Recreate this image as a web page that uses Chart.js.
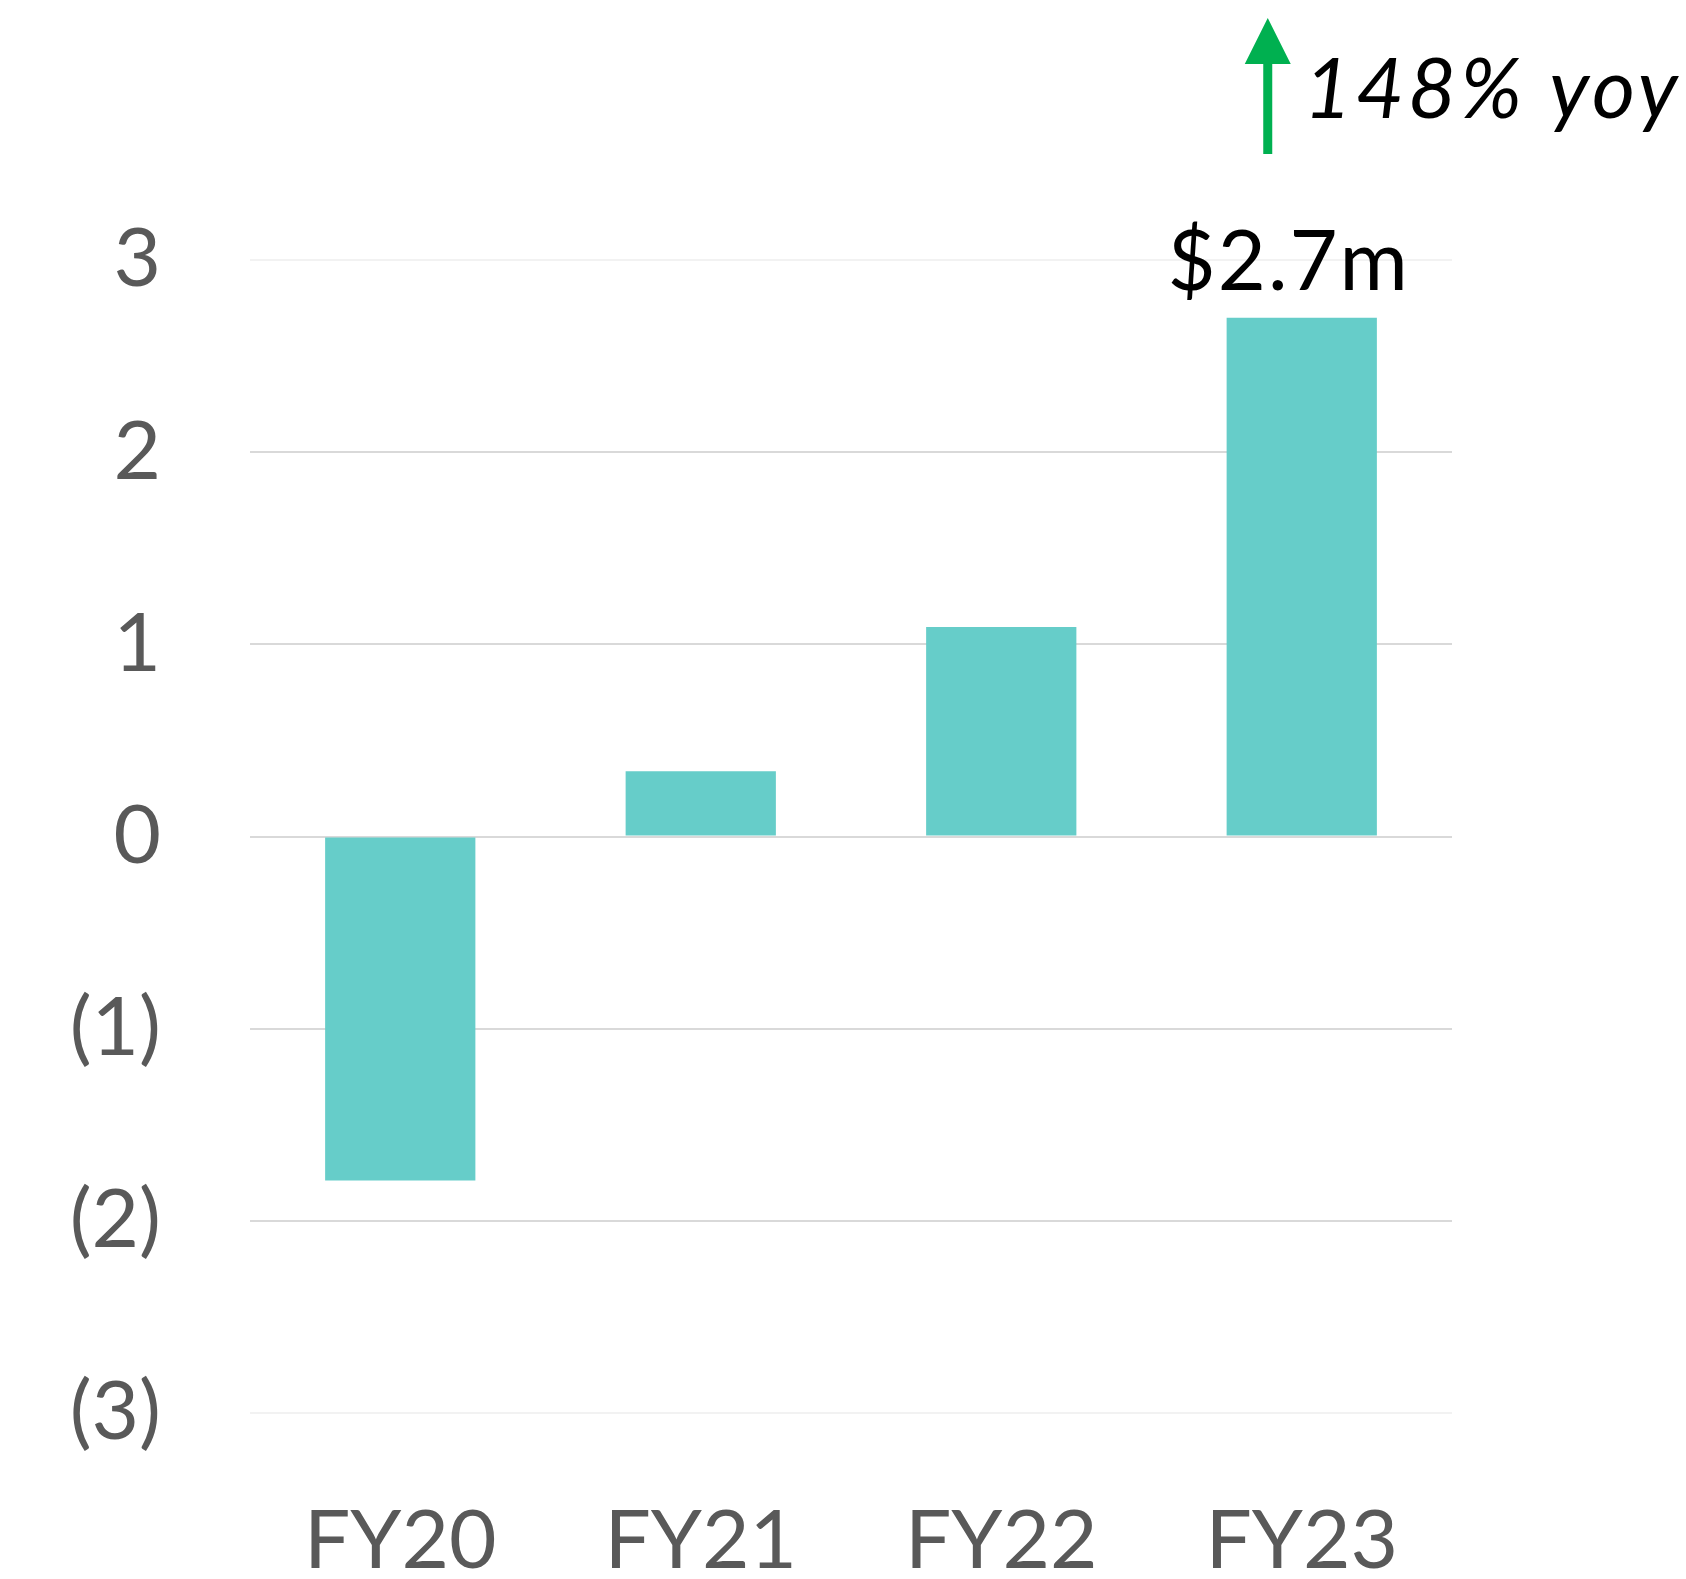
<!DOCTYPE html>
<html>
<head>
<meta charset="utf-8">
<script src="https://cdn.jsdelivr.net/npm/chart.js@4"></script>
<style>
  html, body { margin: 0; padding: 0; background: #fff; }
  canvas { display: block; }
</style>
</head>
<body>
<canvas id="profit-chart" width="1686" height="1579"></canvas>
<script>
const years = ["FY20", "FY21", "FY22", "FY23"];
const profit = [-1.79, 0.34, 1.09, 2.7];
const yTicks = [-3, -2, -1, 0, 1, 2, 3];
const lastLabel = "$2.7m";
const growthLabel = "148% yoy";

const barColor = "#66cdc9";
const textGrey = "#595959";
const fontName = "Lato, 'Open Sans', sans-serif";

// value label above FY23 plus the green growth arrow
const annotate = {
  id: "annotate",
  afterDatasetsDraw(chart) {
    const ctx = chart.ctx;
    const bar = chart.getDatasetMeta(0).data[profit.length - 1];
    ctx.save();
    ctx.fillStyle = "#000";
    ctx.font = "83px " + fontName;
    ctx.letterSpacing = "2px";
    ctx.textAlign = "center";
    ctx.textBaseline = "alphabetic";
    ctx.fillText(lastLabel, bar.x - 13, bar.y - 28);

    const ax = bar.x - 34;
    ctx.fillStyle = "#00b050";
    ctx.fillRect(ax - 4.5, 62, 9, 92);
    ctx.beginPath();
    ctx.moveTo(ax, 18);
    ctx.lineTo(ax + 23, 64);
    ctx.lineTo(ax - 23, 64);
    ctx.closePath();
    ctx.fill();

    ctx.fillStyle = "#000";
    ctx.font = "italic 83px " + fontName;
    ctx.letterSpacing = "4px";
    ctx.textAlign = "left";
    ctx.fillText(growthLabel, ax + 36, 118);
    ctx.restore();
  },
};

const profitChart = new Chart(document.getElementById("profit-chart"), {
  type: "bar",
  data: {
    labels: years,
    datasets: [
      {
        data: profit,
        backgroundColor: barColor,
        barPercentage: 0.5,
        categoryPercentage: 1,
      },
    ],
  },
  options: {
    responsive: false,
    animation: false,
    layout: {
      padding: { top: 260, right: 234, left: 0, bottom: 0 },
    },
    plugins: {
      legend: { display: false },
      tooltip: { enabled: false },
    },
    scales: {
      x: {
        grid: { display: false },
        border: { display: false },
        ticks: {
          color: textGrey,
          font: { family: fontName, size: 82 },
          padding: 71,
        },
        afterFit: (scale) => {
          scale.height = 166;
        },
      },
      y: {
        min: yTicks[0],
        max: yTicks[yTicks.length - 1],
        afterBuildTicks: (scale) => {
          scale.ticks = yTicks.map((v) => ({ value: v }));
        },
        border: { display: false },
        grid: {
          drawTicks: false,
          lineWidth: 2,
          color: (c) =>
            Math.abs(c.tick.value) === 3 ? "#f2f2f2" : "#d9d9d9",
        },
        ticks: {
          color: textGrey,
          font: { family: fontName, size: 82 },
          padding: 89,
          callback: (v) => (v < 0 ? "(" + -v + ")" : "" + v),
        },
        afterFit: (scale) => {
          scale.width = 250;
        },
      },
    },
  },
  plugins: [annotate],
});
</script>
</body>
</html>
